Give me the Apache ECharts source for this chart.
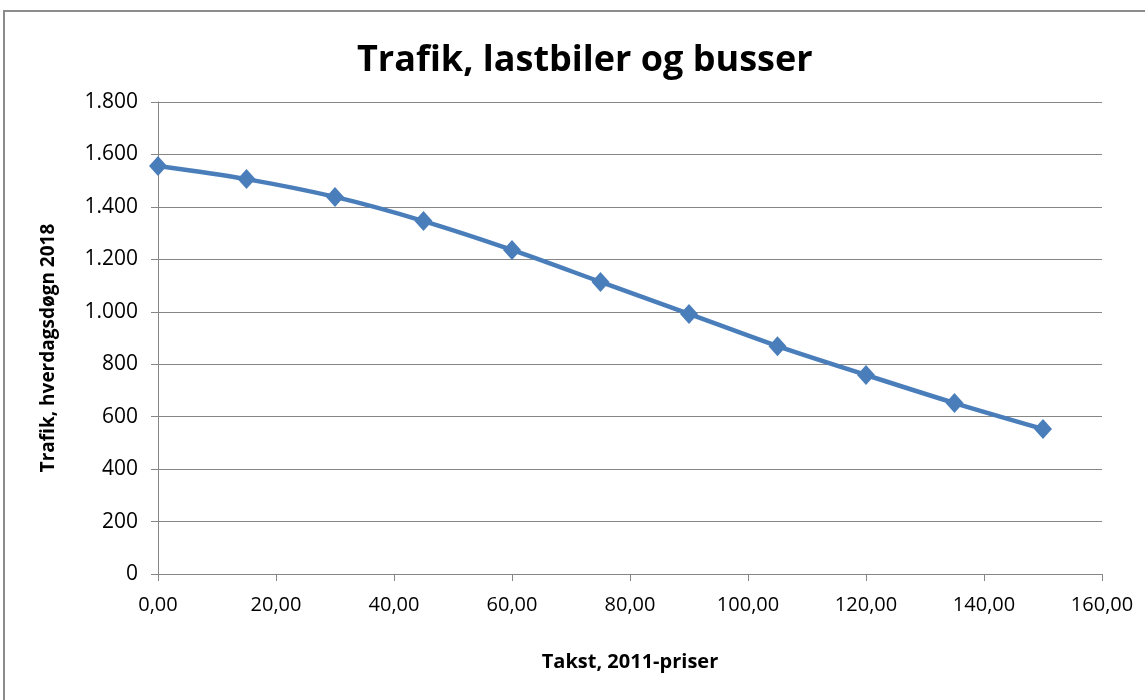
<!DOCTYPE html>
<html>
<head>
<meta charset="utf-8">
<script src="https://cdn.jsdelivr.net/npm/echarts@6/dist/echarts.min.js"></script>
<style>
  html, body { margin: 0; padding: 0; background: #fff; }
  #main { width: 1145px; height: 700px; }
</style>
</head>
<body>
<div id="main"></div>
<script>
// takst (2011-priser) og trafik pr. hverdagsdøgn 2018
const takst = [0, 15, 30, 45, 60, 75, 90, 105, 120, 135, 150];
const trafik = [1556, 1506, 1438, 1346, 1236, 1114, 992, 869, 759, 652, 553];

const font = '"Open Sans", Lato, sans-serif';

const chart = echarts.init(document.getElementById('main'));

const fmtThousands = v => String(v).replace(/\B(?=(\d{3})+(?!\d))/g, '.');
const fmtDecimal = v => v.toFixed(2).replace('.', ',');

const option = {
  animation: false,
  backgroundColor: '#fff',
  graphic: [{
    type: 'rect',
    shape: { x: 4, y: 11, width: 1200, height: 720 },
    style: { fill: 'none', stroke: '#8c8c8c', lineWidth: 2 }
  }],
  title: {
    text: 'Trafik, lastbiler og busser',
    left: 352,
    top: 38,
    textStyle: { fontFamily: font, fontSize: 36, fontWeight: 'bold', color: '#000' }
  },
  grid: { left: 158, right: 43, top: 102, bottom: 126 },
  xAxis: {
    type: 'value',
    min: 0, max: 160, interval: 20,
    name: 'Takst, 2011-priser',
    nameLocation: 'middle',
    nameGap: 78,
    nameTextStyle: { fontFamily: font, fontSize: 20, fontWeight: 'bold', color: '#000' },
    axisLine: { lineStyle: { color: '#868686', width: 1 } },
    axisTick: { show: true, length: 7, lineStyle: { color: '#868686' } },
    axisLabel: { fontFamily: font, fontSize: 20, color: '#000', margin: 21, formatter: fmtDecimal },
    splitLine: { show: false }
  },
  yAxis: {
    type: 'value',
    min: 0, max: 1800, interval: 200,
    name: 'Trafik, hverdagsdøgn 2018',
    nameLocation: 'middle',
    nameGap: 100,
    nameRotate: 90,
    nameTextStyle: { fontFamily: font, fontSize: 19, fontWeight: 'bold', color: '#000', padding: [0, 20, 0, 0] },
    axisLine: { show: true, lineStyle: { color: '#868686', width: 1 } },
    axisTick: { show: true, length: 7, lineStyle: { color: '#868686' } },
    axisLabel: { fontFamily: font, fontSize: 21, color: '#000', margin: 20, formatter: fmtThousands },
    splitLine: { lineStyle: { color: '#868686', width: 1 } }
  },
  series: [{
    type: 'line',
    data: takst.map((x, i) => [x, trafik[i]]),
    smooth: 0.3,
    symbol: 'diamond',
    symbolSize: [18, 20],
    lineStyle: { color: '#4a7ebb', width: 4.5 },
    itemStyle: { color: '#4a7ebb' }
  }]
};

chart.setOption(option);
</script>
</body>
</html>
